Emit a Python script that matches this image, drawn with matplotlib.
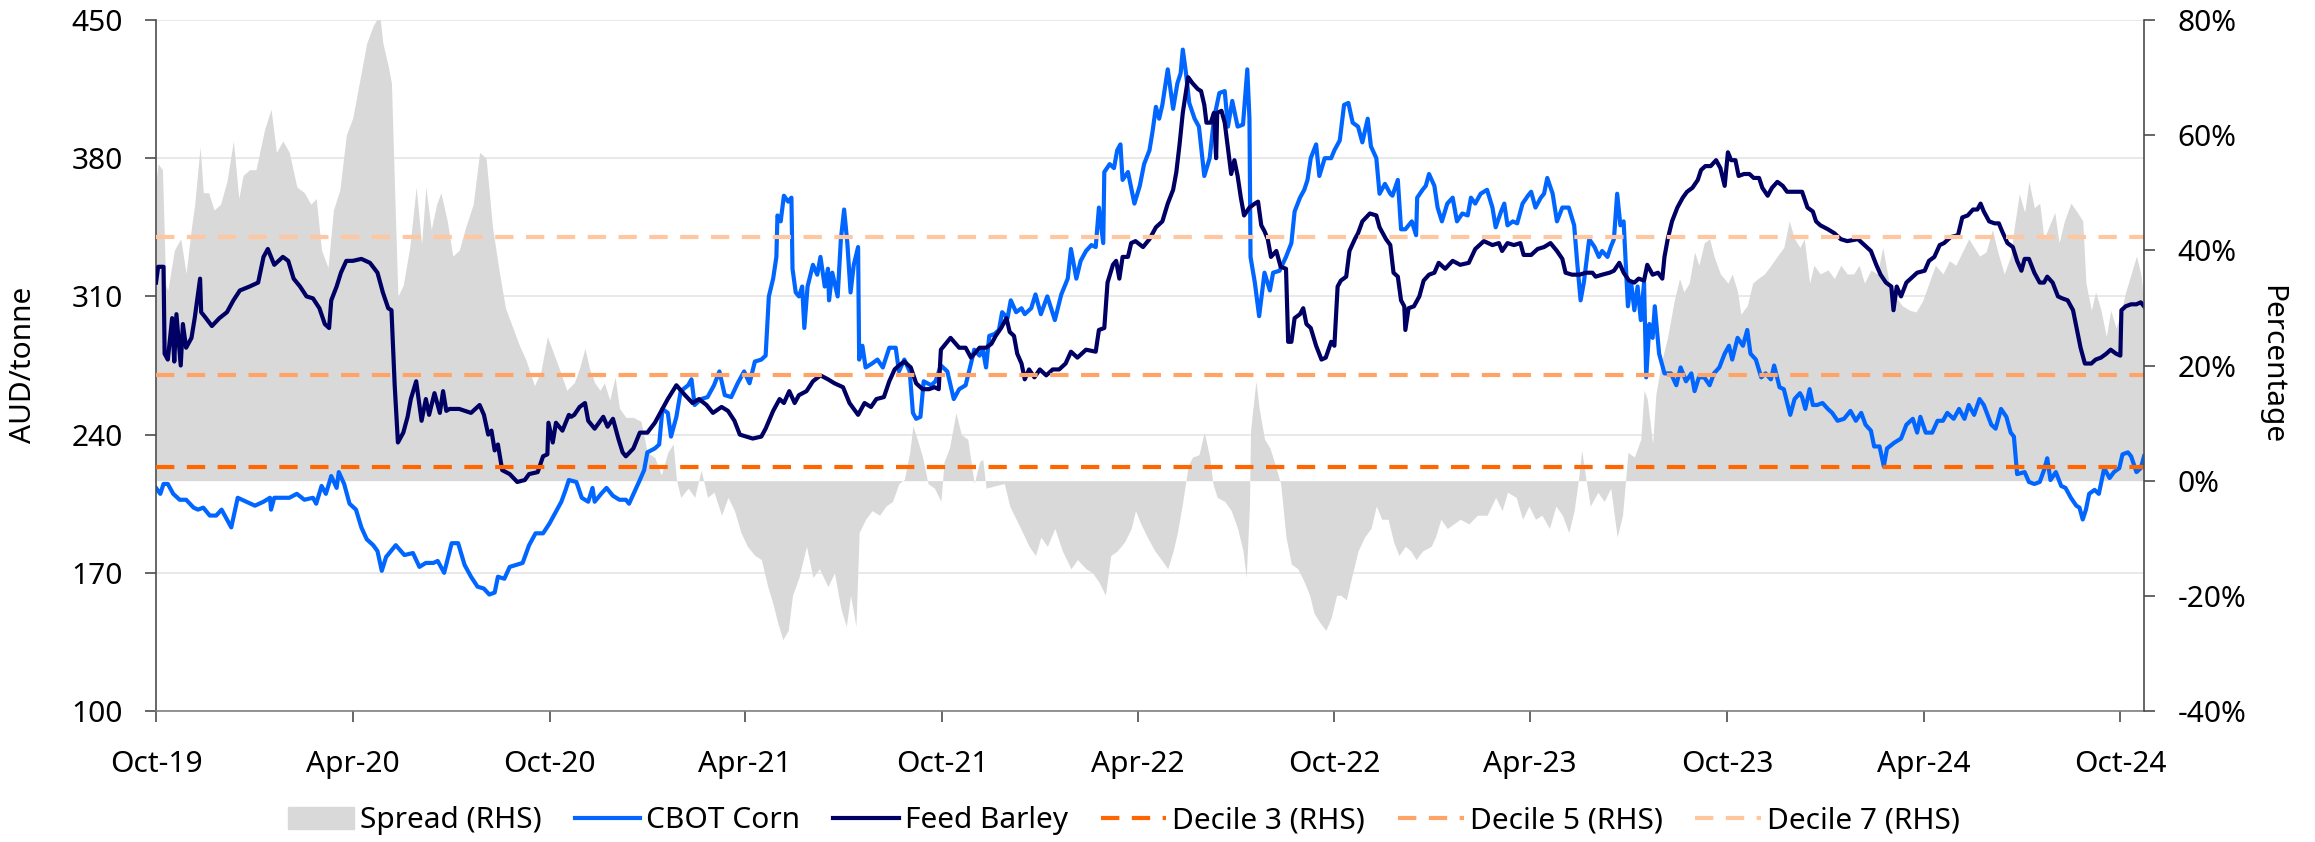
#!/usr/bin/env python3
"""
Feed barley vs CBOT corn (AUD/tonne) with the barley/corn spread on the RHS.
Saves out.png
"""

import matplotlib
matplotlib.use("Agg")
import matplotlib.pyplot as plt
import matplotlib.dates as mdates
import matplotlib.patches as mpatches
import matplotlib.transforms as mtransforms
from matplotlib.lines import Line2D
from matplotlib.ticker import FuncFormatter
import pandas as pd

# x values are days since 1 Oct 2019
START = pd.Timestamp("2019-10-01")
END_DAY = 1849

corn_day = [
    0, 4, 7, 11, 16, 22, 28, 35, 39, 44, 50, 56, 61, 66, 70, 76, 84, 92, 100, 106,
    107, 110, 124, 131, 138, 146, 149, 154, 158, 163, 168, 170, 175, 180, 186, 191,
    196, 202, 206, 210, 214, 223, 231, 239, 245, 251, 258, 262, 268, 275, 281, 287,
    293, 299, 305, 310, 315, 318, 324, 329, 335, 341, 347, 353, 360, 366, 370, 377,
    381, 384, 391, 396, 402, 406, 408, 414, 419, 425, 431, 437, 440, 445, 450, 454,
    457, 464, 468, 471, 476, 479, 484, 488, 495, 498, 501, 507, 513, 519, 524, 529,
    535, 541, 547, 552, 557, 563, 567, 570, 574, 577, 578, 581, 584, 588, 591, 592,
    595, 598, 601, 603, 606, 611, 615, 618, 622, 625, 626, 629, 634, 637, 640, 643,
    646, 649, 653, 654, 657, 660, 666, 671, 676, 682, 688, 691, 696, 701, 704, 707,
    711, 714, 721, 725, 730, 736, 742, 747, 753, 758, 761, 766, 769, 772, 775, 780,
    784, 787, 792, 795, 800, 805, 808, 814, 818, 823, 829, 836, 842, 848, 851, 856,
    860, 865, 870, 874, 877, 881, 882, 887, 891, 894, 897, 899, 904, 910, 915, 919,
    924, 927, 930, 933, 936, 941, 946, 950, 953, 955, 958, 961, 966, 970, 975, 980,
    984, 989, 994, 997, 1001, 1006, 1011, 1015, 1017, 1018, 1022, 1026, 1031, 1036,
    1039, 1045, 1051, 1056, 1059, 1064, 1068, 1071, 1074, 1079, 1082, 1087, 1093,
    1096, 1101, 1105, 1109, 1113, 1118, 1122, 1127, 1130, 1135, 1138, 1143, 1148,
    1150, 1155, 1158, 1162, 1165, 1168, 1172, 1173, 1178, 1181, 1184, 1189, 1192,
    1196, 1201, 1206, 1210, 1215, 1220, 1223, 1227, 1232, 1238, 1243, 1246, 1251,
    1254, 1257, 1262, 1266, 1271, 1276, 1279, 1283, 1288, 1291, 1294, 1299, 1303,
    1308, 1314, 1319, 1322, 1325, 1328, 1333, 1338, 1342, 1345, 1350, 1353, 1356,
    1359, 1362, 1365, 1369, 1372, 1375, 1378, 1381, 1384, 1386, 1389, 1392, 1394,
    1398, 1403, 1409, 1414, 1418, 1423, 1428, 1431, 1435, 1440, 1445, 1449, 1454,
    1459, 1463, 1466, 1471, 1476, 1480, 1483, 1488, 1493, 1497, 1502, 1505, 1510,
    1514, 1520, 1524, 1529, 1531, 1534, 1538, 1541, 1545, 1550, 1555, 1559, 1564,
    1570, 1576, 1581, 1586, 1590, 1595, 1598, 1603, 1607, 1610, 1617, 1623, 1628,
    1634, 1638, 1641, 1646, 1652, 1657, 1662, 1666, 1672, 1677, 1682, 1686, 1691,
    1696, 1700, 1707, 1711, 1716, 1721, 1725, 1728, 1731, 1738, 1742, 1747, 1752,
    1756, 1759, 1762, 1767, 1772, 1776, 1781, 1786, 1789, 1792, 1795, 1798, 1803,
    1807, 1812, 1817, 1821, 1826, 1829, 1834, 1837, 1842, 1846, 1849,
]
corn_aud = [
    213, 210, 215, 215, 210, 207, 207, 203, 202, 203, 199, 199, 202, 197, 193, 208, 206, 204, 206, 208,
    202, 208, 208, 210, 207, 208, 205, 214, 210, 219, 213, 221, 215, 205, 202, 193,
    187, 184, 181, 171, 178, 184, 179, 180, 173, 175, 175, 176, 170, 185, 185, 174,
    168, 163, 162, 159, 160, 168, 167, 173, 174, 175, 184, 190, 190, 195, 199, 206,
    212, 217, 216, 208, 206, 213, 206, 210, 213, 209, 207, 207, 205, 211, 217, 222,
    231, 233, 235, 253, 251, 239, 249, 262, 265, 268, 255, 258, 259, 265, 272, 260,
    259, 266, 272, 266, 277, 278, 280, 310, 319, 330, 351, 348, 361, 358, 360, 324,
    312, 310, 315, 294, 315, 326, 321, 330, 315, 324, 308, 322, 310, 339, 354, 337,
    312, 326, 335, 278, 285, 274, 276, 278, 274, 284, 284, 272, 278, 272, 251, 248,
    249, 267, 265, 267, 275, 272, 258, 263, 265, 276, 283, 280, 283, 274, 290, 291,
    293, 302, 299, 308, 302, 304, 301, 304, 311, 301, 310, 298, 311, 319, 334, 319,
    328, 333, 336, 335, 355, 337, 373, 377, 375, 384, 387, 369, 373, 357, 366, 377,
    384, 394, 406, 400, 407, 425, 405, 418, 423, 435, 423, 408, 400, 396, 371, 380,
    400, 413, 414, 396, 409, 396, 397, 425, 400, 330, 317, 300, 322, 313,
    322, 323, 330, 337, 353, 360, 364, 369, 380, 387, 371, 380, 380,
    384, 389, 407, 408, 398, 396, 388, 400, 386, 380, 362, 367, 362,
    361, 369, 344, 344, 346, 348, 341, 360, 364, 366, 372, 366, 355,
    348, 357, 360, 348, 352, 351, 360, 357, 362, 364, 355, 345, 353,
    357, 346, 348, 347, 357, 361, 363, 355, 360, 362, 370, 362, 348,
    355, 355, 346, 326, 308, 317, 339, 335, 330, 333, 330, 335, 339,
    362, 346, 348, 305, 317, 303, 315, 298, 317, 269, 296, 289, 305,
    281, 271, 271, 265, 274, 267, 271, 262, 269, 269, 265, 271, 274,
    281, 285, 278, 289, 285, 293, 281, 278, 269, 271, 268, 275, 264,
    263, 250, 258, 261, 259, 253, 263, 255, 255, 256, 253, 251, 247,
    248, 252, 247, 251, 245, 242, 234, 234, 224, 233, 236, 238, 245,
    248, 241, 249, 241, 241, 247, 247, 251, 248, 253, 248, 255, 250,
    258, 255, 245, 243, 253, 249, 241, 239, 220, 221, 216, 215, 216,
    222, 228, 217, 221, 214, 213, 208, 204, 203, 197, 202, 210, 212,
    210, 223, 218, 221, 223, 230, 231, 229, 221, 223, 229,
]

barley_day = [
    0, 2, 7, 8, 11, 15, 17, 19, 23, 25, 28, 33, 36, 41, 42, 45, 52, 59, 66, 72, 78,
    87, 95, 100, 104, 110, 118, 123, 128, 134, 140, 146, 152, 157, 161, 163, 168,
    172, 177, 183, 191, 199, 206, 211, 216, 219, 222, 225, 230, 234, 237, 242, 247,
    251, 254, 259, 264, 267, 270, 273, 282, 293, 301, 305, 309, 312, 315, 318, 322,
    329, 336, 343, 347, 355, 360, 364, 365, 369, 372, 378, 384, 386, 389, 394, 399,
    402, 408, 416, 420, 425, 430, 434, 437, 444, 450, 457, 464, 470, 476, 484, 492,
    499, 505, 512, 518, 526, 532, 538, 543, 549, 555, 563, 567, 574, 580, 584, 589,
    594, 598, 605, 611, 618, 625, 631, 639, 645, 653, 659, 665, 670, 677, 682, 687,
    691, 696, 702, 707, 713, 719, 724, 728, 730, 739, 747, 753, 758, 766, 772, 777,
    781, 786, 791, 794, 798, 801, 805, 808, 812, 817, 822, 828, 834, 840, 846, 851,
    857, 865, 874, 877, 882, 885, 890, 893, 896, 899, 904, 907, 911, 918, 924, 930,
    936, 941, 946, 949, 952, 955, 958, 960, 964, 969, 972, 975, 977, 981, 984, 986,
    987, 991, 994, 997, 1000, 1003, 1006, 1009, 1012, 1017, 1022, 1025, 1028, 1031,
    1034, 1037, 1042, 1046, 1051, 1053, 1056, 1059, 1064, 1067, 1070, 1074, 1079,
    1084, 1088, 1093, 1096, 1099, 1102, 1107, 1110, 1115, 1118, 1122, 1129, 1135,
    1138, 1144, 1148, 1151, 1155, 1158, 1161, 1162, 1165, 1170, 1175, 1179, 1184,
    1189, 1193, 1199, 1206, 1213, 1221, 1227, 1235, 1243, 1249, 1252, 1257, 1263,
    1269, 1272, 1279, 1285, 1291, 1297, 1303, 1308, 1311, 1317, 1324, 1330, 1336,
    1339, 1345, 1352, 1356, 1361, 1365, 1370, 1375, 1379, 1384, 1387, 1392, 1397,
    1401, 1403, 1406, 1410, 1415, 1420, 1424, 1429, 1434, 1437, 1441, 1446, 1451,
    1455, 1459, 1462, 1465, 1469, 1472, 1477, 1482, 1486, 1491, 1494, 1499, 1503,
    1508, 1513, 1517, 1524, 1531, 1536, 1541, 1544, 1548, 1555, 1561, 1567, 1573,
    1583, 1589, 1595, 1600, 1604, 1609, 1614, 1616, 1619, 1623, 1628, 1632, 1638,
    1645, 1649, 1654, 1659, 1663, 1669, 1676, 1680, 1685, 1690, 1694, 1697, 1700,
    1705, 1710, 1714, 1717, 1722, 1727, 1731, 1735, 1738, 1742, 1747, 1752, 1756,
    1759, 1764, 1769, 1773, 1778, 1783, 1787, 1790, 1794, 1800, 1804, 1809, 1814,
    1818, 1823, 1827, 1828, 1832, 1837, 1842, 1846, 1849,
]
barley_aud = [
    317, 325, 325, 281, 278, 299, 277, 301, 275, 296, 284, 289, 299, 319, 302, 300, 295, 299, 302, 308, 313,
    315, 317, 330, 334, 326, 330, 328, 319, 315, 310, 309, 304, 296, 294, 308, 315,
    322, 328, 328, 329, 327, 322, 312, 304, 303, 265, 236, 241, 249, 258, 267, 247,
    258, 250, 261, 251, 262, 252, 253, 253, 251, 255, 250, 240, 242, 232, 235, 222,
    220, 216, 217, 220, 221, 229, 230, 246, 236, 246, 242, 250, 249, 250, 254, 256,
    247, 243, 249, 244, 248, 238, 231, 229, 233, 241, 241, 246, 252, 258, 265, 260,
    256, 258, 255, 251, 254, 252, 247, 240, 239, 238, 239, 243, 252, 258, 256, 262,
    256, 260, 262, 267, 270, 268, 266, 264, 256, 250, 256, 254, 258, 259, 267, 273,
    275, 277, 274, 266, 263, 263, 264, 263, 283, 289, 284, 284, 279, 284, 284, 286,
    290, 294, 299, 292, 290, 281, 276, 268, 273, 269, 273, 270, 273, 273, 276, 282,
    279, 283, 282, 293, 294, 317, 326, 328, 319, 330, 330, 337, 338, 335, 339, 345,
    348, 357, 364, 373, 387, 403, 414, 421, 418, 415, 414, 407, 398, 398, 403, 380,
    403, 404, 398, 385, 372, 379, 371, 360, 351, 355, 357, 358, 346, 343,
    339, 330, 333, 325, 324, 287, 287, 299, 301, 304, 296, 294, 285,
    278, 279, 287, 285, 315, 318, 320, 333, 339, 342, 348, 352, 351,
    345, 339, 336, 322, 320, 308, 305, 293, 304, 305, 310, 318, 321,
    322, 327, 324, 328, 326, 327, 334, 338, 336, 337, 333, 337, 336,
    337, 331, 331, 334, 335, 337, 333, 329, 322, 321, 321, 322, 322,
    320, 321, 322, 323, 327, 322, 318, 317, 319, 318, 326, 321, 322,
    319, 330, 339, 348, 355, 360, 363, 365, 369, 374, 376, 376, 379,
    375, 366, 383, 379, 379, 371, 372, 372, 370, 370, 365, 361, 365,
    368, 366, 363, 363, 363, 355, 353, 348, 346, 344, 342, 339, 338,
    339, 336, 333, 326, 321, 317, 315, 303, 315, 310, 317, 319, 322,
    323, 328, 330, 336, 337, 340, 341, 350, 351, 354, 354, 357, 353,
    348, 347, 347, 343, 337, 335, 328, 323, 329, 329, 322, 317, 317,
    320, 317, 310, 309, 308, 303, 292, 284, 276, 276, 278, 279, 281,
    283, 281, 280, 303, 305, 306, 306, 307, 305,
]

# barley / corn spread, percent (RHS)
spread_day = [
    0, 2, 6, 9, 11, 17, 23, 28, 33, 36, 41, 44, 49, 54, 60, 66, 72, 77, 81, 87, 93,
    101, 107, 112, 118, 124, 131, 138, 144, 149, 154, 160, 165, 171, 177, 183, 189,
    196, 202, 208, 211, 216, 219, 222, 225, 230, 236, 242, 247, 251, 256, 261, 265,
    271, 276, 282, 288, 295, 301, 307, 313, 319, 325, 332, 338, 344, 352, 358, 364,
    370, 376, 382, 389, 394, 399, 403, 408, 413, 417, 422, 427, 431, 437, 444, 451,
    457, 464, 470, 476, 481, 484, 488, 495, 501, 507, 513, 519, 526, 532, 538, 544,
    550, 557, 563, 569, 574, 578, 583, 588, 592, 598, 605, 611, 617, 625, 631, 637,
    642, 646, 651, 654, 660, 666, 673, 679, 685, 691, 696, 701, 704, 708, 713, 718,
    724, 730, 733, 738, 744, 749, 755, 761, 766, 769, 772, 780, 789, 794, 800, 806,
    812, 818, 823, 829, 836, 843, 851, 857, 865, 871, 877, 883, 888, 894, 901, 907,
    911, 916, 922, 929, 935, 941, 946, 950, 955, 960, 964, 970, 975, 980, 983, 987,
    994, 1000, 1006, 1011, 1014, 1017, 1018, 1023, 1026, 1031, 1036, 1040, 1046,
    1051, 1056, 1062, 1068, 1073, 1077, 1082, 1088, 1093, 1098, 1102, 1107, 1112,
    1118, 1124, 1130, 1135, 1140, 1146, 1151, 1156, 1162, 1167, 1172, 1178, 1186,
    1190, 1195, 1201, 1207, 1213, 1221, 1229, 1238, 1246, 1252, 1257, 1265, 1271,
    1277, 1283, 1289, 1296, 1302, 1308, 1314, 1319, 1323, 1326, 1330, 1334, 1341,
    1347, 1353, 1359, 1364, 1369, 1375, 1381, 1384, 1387, 1392, 1395, 1400, 1406,
    1412, 1417, 1421, 1426, 1431, 1435, 1440, 1445, 1449, 1455, 1462, 1466, 1471,
    1474, 1480, 1485, 1490, 1496, 1502, 1508, 1514, 1519, 1524, 1529, 1533, 1538,
    1542, 1548, 1555, 1561, 1567, 1573, 1579, 1584, 1589, 1595, 1601, 1606, 1612,
    1618, 1624, 1631, 1637, 1643, 1649, 1655, 1662, 1668, 1674, 1680, 1686, 1691,
    1696, 1702, 1708, 1713, 1719, 1725, 1728, 1733, 1738, 1742, 1747, 1752, 1756,
    1761, 1766, 1770, 1775, 1781, 1787, 1792, 1795, 1800, 1804, 1809, 1814, 1818,
    1823, 1828, 1832, 1837, 1842, 1846, 1849,
]
spread_pct = [
    52, 55, 54, 34, 33, 40, 42, 36, 44, 48, 58, 50, 50, 47, 48, 52, 59, 49, 53, 54, 54,
    61, 64.5, 57, 59, 57, 51, 50, 48, 49, 40, 37, 47, 50.5, 60, 63, 69,
    76, 79, 81, 76, 72, 69, 50, 32, 34, 40.5, 51, 41, 51, 43.6, 48, 50,
    45, 39, 40, 44, 48, 57, 56, 44, 36.6, 30, 26.5, 23.5, 21, 16.5, 19, 25,
    22, 19, 15.7, 17, 19.6, 23, 19.6, 17, 15.7, 17, 14, 18, 12.6, 11, 11, 10.3,
    4.9, 4, 1, 4.9, 6.4, 0.2, -2.9, -1.3, -2.9, 1.8, -2.9, -2, -6, -2.9, -5.2, -9,
    -11.4, -13, -13.7, -18.4, -21.5, -24.5, -27.6, -26, -19.9, -16.8, -11.4, -16.8, -15.3, -18.4, -16, -22.2,
    -25.3, -19.9, -25.3, -9, -6.7, -5.2, -6, -4.4, -3.6, -0.5, 0.2, 4.9, 9.5, 7.2, 4.1, -0.5,
    -1.3, -3.6, 3.3, 5.7, 11.8, 8, 7.2, -0.5, 3.3, 3.7, -1.3, -0.9, -0.5, -4.4, -6.7, -9,
    -11.4, -13, -9.8, -11.4, -8.3, -12.2, -15.3, -13.7, -15.3, -16, -17.6, -19.9, -13, -12.2, -10.6, -8.3,
    -5.2, -7.5, -9.8, -12.2, -13.7, -15.3, -12.2, -9, -3.6, 2.6, 4.1, 4.5, 8.4, 4.1, -0.5, -2.9,
    -3.6, -5.2, -8.3, -12.2, -16.8, -4.4, 8.7, 17.3, 12.6, 7.2, 5.7, 3.3, -0.5,
    -9.8, -14.5, -15.3, -17.6, -19.9, -23, -24.5, -26, -23.8, -19.9, -19.9, -20.7, -16.8,
    -12.2, -9.8, -8.3, -4.4, -6.7, -6.7, -10.6, -13, -11.4, -12.2, -13.7, -12.2, -11.4,
    -9.8, -6.7, -8.3, -7.5, -6.7, -7.5, -6, -6, -2.9, -5.2, -2, -2.9, -6.7,
    -4.4, -6.7, -6, -8.3, -4.4, -6, -9, -5.2, 0.2, 5.3, 0.2, -4.4, -2,
    -3.6, -1.3, -9.8, -6, 4.9, 4.1, 7.2, 15.7, 14.2, 6.4, 15, 20.4, 25,
    31.2, 35.1, 32.8, 34.3, 39.7, 37.4, 41.3, 42, 39, 35.9, 34.3, 35.9, 32.8,
    28.9, 30.4, 34.3, 35.1, 35.9, 37.4, 39, 40.5, 45.1, 42, 40.5, 42, 34.3,
    37.4, 35.9, 36.6, 35.1, 37.4, 35.9, 35.9, 37.4, 34.3, 36.6, 35.9, 40.5, 34.3,
    32, 30.4, 29.6, 29.3, 31.2, 34.3, 37.4, 35.9, 38.2, 37.4, 39.7, 42, 40.5,
    39, 39.7, 43.6, 39.7, 35.9, 39, 43.6, 49.8, 46.6, 52, 47.4, 48.2, 42,
    44.3, 46.6, 41.3, 45.1, 48.2, 46.6, 45.1, 34.3, 29.6, 32.8, 29.6, 25, 29.6,
    26.5, 29.6, 32.8, 35.9, 39, 35.9, 31.2,
]

decile_labels = ["Decile 3 (RHS)", "Decile 5 (RHS)", "Decile 7 (RHS)"]
decile_pct = [2.3, 18.4, 42.3]

COLORS = {
    "spread": "#D9D9D9",
    "corn":   "#0066FF",
    "barley": "#000064",
    "deciles": ["#FF6600", "#FFA366", "#FFC7A0"],
}
FS = 21.5
LW = 3.0
DASH = (4.4, 3.0)

plt.rcParams.update({
    "font.family": ["Noto Sans", "DejaVu Sans"],
    "font.size": FS,
})


def to_dates(days):
    return START + pd.to_timedelta(days, unit="D")


fig = plt.figure(figsize=(23.15, 8.42), dpi=100)
ax = fig.add_axes([156 / 2315, 1 - 711 / 842, 1988 / 2315, 691 / 842])
ax2 = ax.twinx()

# spread area sits on the RHS scale but under the price lines
rhs = mtransforms.blended_transform_factory(ax.transData, ax2.transData)
ax.fill_between(to_dates(spread_day), 0, spread_pct, transform=rhs,
                color=COLORS["spread"], linewidth=0, zorder=1)

ax.plot(to_dates(corn_day), corn_aud, color=COLORS["corn"], lw=LW, zorder=2)
ax.plot(to_dates(barley_day), barley_aud, color=COLORS["barley"], lw=LW, zorder=3)

for val, col in zip(decile_pct, COLORS["deciles"]):
    ax2.axhline(val, color=col, lw=LW, dashes=DASH)

# axes
ax.set_xlim(START, to_dates([END_DAY])[0])
ax.set_ylim(100, 450)
ax2.set_ylim(-40, 80)
ax.set_yticks(range(100, 451, 70))
ax2.set_yticks(range(-40, 81, 20))
ax2.yaxis.set_major_formatter(FuncFormatter(lambda v, p: f"{v:.0f}%"))
ax.xaxis.set_major_locator(mdates.MonthLocator(bymonth=[4, 10]))
ax.xaxis.set_major_formatter(mdates.DateFormatter("%b-%y"))

ax.set_axisbelow(True)
ax.grid(axis="y", color="#E3E3E3", lw=1.1)
ax.grid(axis="x", visible=False)

for s in ["top", "right"]:
    ax.spines[s].set_visible(False)
for s in ["top", "left", "bottom"]:
    ax2.spines[s].set_visible(False)
ax.spines["left"].set_color("#4D4D4D")
ax.spines["bottom"].set_color("#808080")
ax2.spines["right"].set_color("#4D4D4D")
for sp in [ax.spines["left"], ax.spines["bottom"], ax2.spines["right"]]:
    sp.set_linewidth(1.2)

ax.tick_params(axis="y", direction="out", length=8, width=1.2, pad=16,
               labelsize=FS, color="#4D4D4D")
ax.tick_params(axis="x", direction="out", length=8, width=1.2, pad=20,
               labelsize=FS, color="#4D4D4D")
ax2.tick_params(axis="y", direction="out", length=8, width=1.2, pad=16,
                labelsize=FS, color="#4D4D4D")

fig.text(24 / 2315, 1 - 365 / 842, "AUD/tonne", rotation=90,
         ha="center", va="center", fontsize=FS)
fig.text(2272 / 2315, 1 - 365 / 842, "Percentage", rotation=-90,
         ha="center", va="center", fontsize=FS)

handles = [mpatches.Patch(color=COLORS["spread"], label="Spread (RHS)"),
           Line2D([], [], color=COLORS["corn"], lw=LW, label="CBOT Corn"),
           Line2D([], [], color=COLORS["barley"], lw=LW, label="Feed Barley")]
for lab, col in zip(decile_labels, COLORS["deciles"]):
    handles.append(Line2D([], [], color=col, lw=LW, dashes=DASH, label=lab))

fig.legend(handles=handles, loc="center", bbox_to_anchor=(0.4856, 0.025),
           ncol=6, frameon=False, fontsize=FS, handlelength=2.2,
           handleheight=0.75, handletextpad=0.2, columnspacing=1.1)

fig.savefig("out.png", dpi=100)
plt.close(fig)
